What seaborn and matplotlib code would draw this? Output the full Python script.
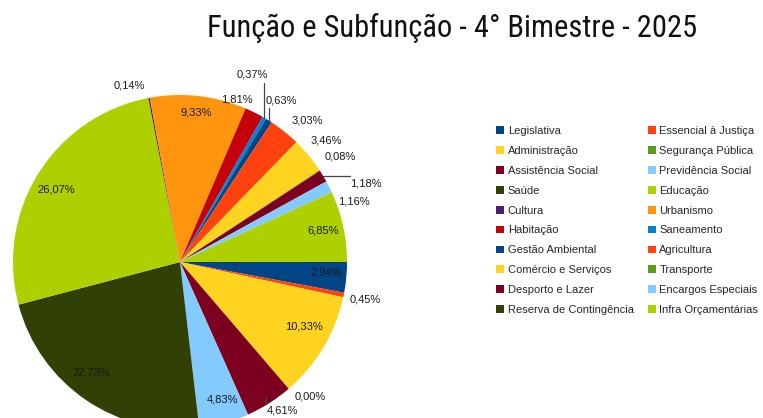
import matplotlib
matplotlib.use("Agg")
import matplotlib.pyplot as plt
from matplotlib.patches import Patch
import seaborn as sns
import numpy as np

# Função e Subfunção - 4° Bimestre - 2025 (percent of total)
categories = [
    "Legislativa", "Essencial à Justiça", "Administração", "Segurança Pública",
    "Assistência Social", "Previdência Social", "Saúde", "Educação",
    "Cultura", "Urbanismo", "Habitação", "Saneamento",
    "Gestão Ambiental", "Agricultura", "Comércio e Serviços", "Transporte",
    "Desporto e Lazer", "Encargos Especiais", "Reserva de Contingência", "Infra Orçamentárias",
]
values = [
    2.94, 0.45, 10.33, 0.00,
    4.61, 4.83, 22.73, 26.07,
    0.14, 9.33, 1.81, 0.37,
    0.63, 3.03, 3.46, 0.08,
    1.18, 1.16, 0.00, 6.85,
]
show_label = [True] * 18 + [False, True]

# LibreOffice default chart palette (repeats after 12)
base_colors = ["#004586", "#ff420e", "#ffd320", "#579d1c", "#7e0021", "#83caff",
               "#314004", "#aecf00", "#4b1f6f", "#ff950e", "#c5000b", "#0084d1"]
colors = (base_colors * 2)[:len(values)]

# label placement: radius (in pie radii) and angular nudge in degrees
label_r = [0.88, 1.13, 0.84, 1.12, 1.08, 0.86, 0.85, 0.86, 1.10, 0.90,
           1.03, 1.20, 1.14, 1.14, 1.14, 1.15, 1.21, 1.10, 1.0, 0.88]
label_shift = [1, 0, 3.3, 3.5, 2.5, 1.7, -4.4, 2, 5.3, 0,
               7, 9.3, 0, -3.1, 0, 0, -8, -7.6, 0, 0]
# leader lines: index -> (direction, length, start radius)
leaders = {11: ("v", 0.21, 1.0), 12: ("v", 0.075, 1.0), 16: ("h", 0.16, 1.0), 4: ("v", -0.04, 0.96)}

sns.set_theme(style="white")
plt.rcParams["font.family"] = ["Liberation Sans", "DejaVu Sans"]

W, H = 763, 418
cx, cy, R = 180, 262, 167
fig = plt.figure(figsize=(W / 100, H / 100), dpi=100)
ax = fig.add_axes([0, 0, 1, 1])
wedges, _ = ax.pie(values, colors=colors, startangle=0, counterclock=False,
                   radius=1, wedgeprops=dict(linewidth=0))
ax.set_xlim(-cx / R, (W - cx) / R)
ax.set_ylim(-(H - cy) / R, cy / R)
ax.set_aspect("auto")
ax.axis("off")

for i, w in enumerate(wedges):
    if not show_label[i]:
        continue
    mid = (w.theta1 + w.theta2) / 2
    ang = np.deg2rad(mid + label_shift[i])
    txt = f"{values[i]:.2f}%".replace(".", ",")
    ax.text(label_r[i] * np.cos(ang), label_r[i] * np.sin(ang), txt,
            ha="center", va="center", fontsize=8, color="#1a1a1a")
    if i in leaders:
        d, length, r0 = leaders[i]
        a = np.deg2rad(mid)
        x0, y0 = r0 * np.cos(a), r0 * np.sin(a)
        x1, y1 = (x0, y0 + length) if d == "v" else (x0 + length, y0)
        ax.plot([x0, x1], [y0, y1], color="#444444", lw=0.9)

fig.text(452 / W, 1 - 37 / H, "Função e Subfunção - 4° Bimestre - 2025",
         ha="center", va="baseline", fontsize=22,
         family=["Roboto Condensed", "Liberation Sans"], color="#111111")

handles = [Patch(facecolor=c, edgecolor="none") for c in colors]
order = list(range(0, len(values), 2)) + list(range(1, len(values), 2))
fig.legend([handles[k] for k in order], [categories[k] for k in order],
           ncol=2, loc="upper left", bbox_to_anchor=(496 / W, 1 - 126 / H),
           frameon=False, fontsize=8, borderpad=0, borderaxespad=0,
           handlelength=0.7, handleheight=0.7, handletextpad=0.35,
           labelspacing=0.89, columnspacing=1.27)

fig.savefig("out.png", dpi=100)
